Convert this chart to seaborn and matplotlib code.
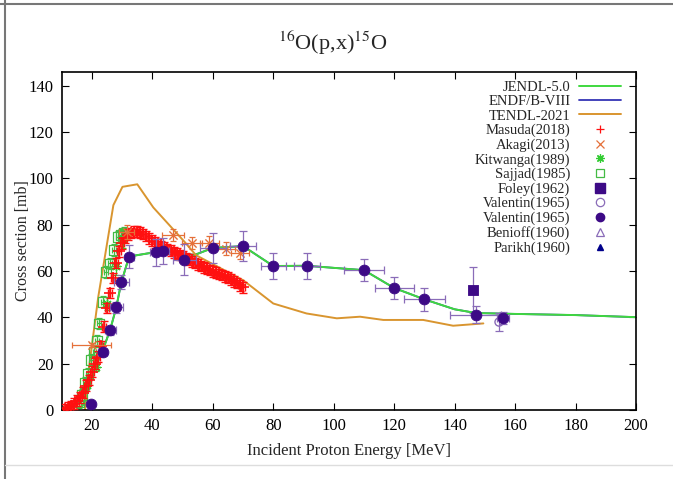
import numpy as np
import pandas as pd
import matplotlib
matplotlib.use("Agg")
import matplotlib.pyplot as plt
from matplotlib.lines import Line2D
import seaborn as sns

# ---------------- data ----------------
jendl_e = [15, 17, 19, 21, 23.5, 26, 28, 29.7, 32.3, 41, 44, 50, 54, 60, 70, 80, 91, 110, 120, 130, 140, 147, 160, 180, 200]
jendl_y = [0, 2, 9, 18, 25.5, 34.5, 44, 55, 66.3, 68.2, 68.6, 67.5, 67, 70, 70.8, 62.2, 62.3, 60.4, 52.7, 47.8, 43.5, 41.9, 41.5, 41, 40.1]

endf_e = jendl_e
endf_y = jendl_y

tendl_e = [17.7, 18.5, 22.1, 27.1, 30.1, 35.0, 40.3, 50.6, 54.4, 70.1, 80.0, 91.0, 101.0, 108.7, 116.4, 129.6, 139.5, 149.5]
tendl_y = [0.0, 13.0, 48.9, 88.5, 96.4, 97.5, 87.5, 72.7, 66.9, 56.0, 46.0, 41.7, 39.6, 40.3, 38.9, 38.9, 36.4, 37.4]

masuda_e = [11, 12, 13, 14, 15, 16, 17, 18, 19, 20, 21, 22, 23, 24, 25, 26, 27, 28, 29, 30,
            31, 32, 33, 34, 35, 36, 37, 38, 39, 40, 41, 42, 43, 44, 45, 46, 47, 48, 49, 50,
            51, 52, 53, 54, 55, 56, 57, 58, 59, 60, 61, 62, 63, 64, 65, 66, 67, 68, 69, 70]
masuda_y = [0.5, 1.0, 1.8, 2.8, 4.0, 5.5, 7.5, 10.5, 13.0, 16.5, 20.0, 23.0, 27.5, 36.0, 44.0, 50.5, 57.0, 63.5, 68.5, 72.0,
            74.5, 75.8, 76.5, 77.0, 77.0, 76.8, 76.0, 75.2, 74.2, 73.2, 72.4, 71.6, 70.9, 70.2, 69.5, 68.8, 68.1, 67.5, 66.9, 66.3,
            65.6, 64.9, 64.2, 63.5, 62.9, 62.2, 61.6, 61.0, 60.4, 59.8, 59.3, 58.8, 58.3, 57.7, 57.1, 56.4, 55.6, 54.8, 53.9, 53.0]
masuda_xerr = 0.6
masuda_yerr = 2.3

akagi_e = [19.9, 31.5, 46.8, 53.1, 58.8, 64.2, 69.1]
akagi_y = [28.1, 77.0, 75.5, 72.1, 72.3, 69.7, 67.9]
akagi_xerr = [6.5, 2.5, 3.5, 3.2, 3.2, 3.0, 3.0]
akagi_yerr = [1.0, 3.0, 2.5, 2.7, 2.8, 2.7, 2.7]

kitwanga_e = [18.3, 21.2, 25.0, 28.0, 30.3]
kitwanga_y = [10.8, 18.7, 46.0, 62.0, 74.0]
kitwanga_yerr = [1.5, 2.0, 3.0, 3.5, 4.0]

sajjad_e = [15.8, 16.8, 17.7, 18.7, 19.7, 20.8, 21.6, 22.4, 23.5, 24.6, 26.0, 27.4, 28.5, 29.6, 30.6]
sajjad_y = [3.5, 6.5, 11.8, 15.5, 21.6, 25.2, 30.0, 37.4, 46.8, 59.7, 63.3, 69.0, 74.8, 75.5, 76.5]
sajjad_xerr = 0.6
sajjad_yerr = 2.5

foley_e = [146.0]
foley_y = [51.8]
foley_yerr = [10.0]

valentin_open_e = [154.7]
valentin_open_y = [38.0]
valentin_open_yerr = [4.0]

valentin_e = [19.6, 23.6, 26.1, 28.1, 29.7, 32.3, 41.1, 43.6, 50.6, 60.0, 70.0, 80.0, 91.0, 110.0, 120.0, 130.0, 147.0, 155.9]
valentin_y = [2.6, 25.2, 34.5, 44.3, 55.1, 66.3, 68.2, 68.7, 65.0, 70.0, 70.9, 62.2, 62.3, 60.4, 52.7, 47.8, 41.2, 39.7]
valentin_xerr = [0.3, 1.5, 1.8, 2.2, 2.5, 1.5, 2.0, 2.0, 3.7, 4.4, 4.4, 4.2, 4.3, 6.5, 6.4, 6.8, 8.5, 2.0]
valentin_yerr = [0.3, 1.0, 2.0, 2.2, 3.0, 5.0, 5.8, 5.8, 6.5, 6.5, 6.5, 5.7, 5.7, 4.7, 4.9, 5.0, 3.6, 2.5]

benioff_e = []
benioff_y = []
parikh_e = []
parikh_y = []

x_ticks = [20, 40, 60, 80, 100, 120, 140, 160, 180, 200]
y_ticks = [0, 20, 40, 60, 80, 100, 120, 140]

# ---------------- style ----------------
sns.set_theme(style="ticks")
plt.rcParams['font.family'] = ['Liberation Serif', 'DejaVu Serif']
plt.rcParams['mathtext.fontset'] = 'stix'

C_JENDL = '#3fd83f'
C_ENDF = '#3535b5'
C_TENDL = '#d9952f'
C_MASUDA = '#ff1010'
C_AKAGI = '#e5703a'
C_KIT = '#33cc33'
C_SAJ = '#44bb44'
C_PURPLE = '#3d0a86'
C_PURPLE_ERR = '#8a6cb8'
C_PARIKH = '#00008b'

fig = plt.figure(figsize=(6.73, 4.79), dpi=100)
ax = fig.add_axes([61.7 / 673, 1 - 410 / 479, (636 - 61.7) / 673, (410 - 72) / 479])

# model lines
sns.lineplot(x=endf_e, y=endf_y, ax=ax, color=C_ENDF, lw=1.3, sort=False, estimator=None, zorder=1)
sns.lineplot(x=jendl_e, y=jendl_y, ax=ax, color=C_JENDL, lw=1.4, sort=False, estimator=None, zorder=2)
sns.lineplot(x=tendl_e, y=tendl_y, ax=ax, color=C_TENDL, lw=1.4, sort=False, estimator=None, zorder=2)

# experimental data with error bars
ax.errorbar(sajjad_e, sajjad_y, xerr=sajjad_xerr, yerr=sajjad_yerr, fmt='none',
            ecolor=C_SAJ, elinewidth=0.9, capsize=2.5, capthick=0.9, zorder=3)
sns.scatterplot(x=sajjad_e, y=sajjad_y, ax=ax, marker='s', s=50, facecolor='none',
                edgecolor=C_SAJ, linewidth=0.9, zorder=4)

ax.errorbar(kitwanga_e, kitwanga_y, yerr=kitwanga_yerr, fmt='none',
            ecolor=C_KIT, elinewidth=0.9, capsize=2.5, capthick=0.9, zorder=3)
sns.scatterplot(x=kitwanga_e, y=kitwanga_y, ax=ax, marker=(8, 2, 0), s=40,
                color=C_KIT, edgecolor=C_KIT, linewidth=1.0, zorder=4)

ax.errorbar(masuda_e, masuda_y, xerr=masuda_xerr, yerr=masuda_yerr, fmt='none',
            ecolor=C_MASUDA, elinewidth=1.0, capsize=3, capthick=1.0, zorder=5)
sns.scatterplot(x=masuda_e, y=masuda_y, ax=ax, marker='+', s=70,
                color=C_MASUDA, linewidth=1.2, zorder=5)

ax.errorbar(akagi_e, akagi_y, xerr=akagi_xerr, yerr=akagi_yerr, fmt='none',
            ecolor=C_AKAGI, elinewidth=0.9, capsize=2.5, capthick=0.9, zorder=6)
sns.scatterplot(x=akagi_e, y=akagi_y, ax=ax, marker='x', s=35,
                color=C_AKAGI, linewidth=1.0, zorder=6)

ax.errorbar(foley_e, foley_y, yerr=foley_yerr, fmt='none',
            ecolor=C_PURPLE_ERR, elinewidth=0.9, capsize=3, capthick=0.9, zorder=6)
sns.scatterplot(x=foley_e, y=foley_y, ax=ax, marker='s', s=60,
                color=C_PURPLE, edgecolor=C_PURPLE, zorder=7)

ax.errorbar(valentin_open_e, valentin_open_y, yerr=valentin_open_yerr, fmt='none',
            ecolor=C_PURPLE_ERR, elinewidth=0.9, capsize=3, capthick=0.9, zorder=6)
sns.scatterplot(x=valentin_open_e, y=valentin_open_y, ax=ax, marker='o', s=35,
                facecolor='none', edgecolor=C_PURPLE_ERR, linewidth=1.0, zorder=7)

ax.errorbar(valentin_e, valentin_y, xerr=valentin_xerr, yerr=valentin_yerr, fmt='none',
            ecolor=C_PURPLE_ERR, elinewidth=0.9, capsize=3, capthick=0.9, zorder=7)
sns.scatterplot(x=valentin_e, y=valentin_y, ax=ax, marker='o', s=60,
                color=C_PURPLE, edgecolor=C_PURPLE, zorder=8)

if len(benioff_e):
    sns.scatterplot(x=benioff_e, y=benioff_y, ax=ax, marker='^', s=35,
                    facecolor='none', edgecolor=C_PURPLE_ERR, zorder=8)
if len(parikh_e):
    sns.scatterplot(x=parikh_e, y=parikh_y, ax=ax, marker='^', s=35,
                    color=C_PARIKH, zorder=8)

# axes
ax.set_xlim(10, 200)
ax.set_ylim(0, 146)
ax.set_xticks(x_ticks)
ax.set_yticks(y_ticks)
ax.tick_params(direction='in', length=5, width=0.8, top=True, right=True,
               labelsize=12, pad=6, colors='black')
for sp in ax.spines.values():
    sp.set_linewidth(1.2)
    sp.set_color('black')
ax.set_xlabel('Incident Proton Energy [MeV]', fontsize=12, labelpad=6)
ax.set_ylabel('Cross section [mb]', fontsize=11.5, labelpad=-2)

# legend
handles = [
    Line2D([], [], color=C_JENDL, lw=1.4),
    Line2D([], [], color=C_ENDF, lw=1.3),
    Line2D([], [], color=C_TENDL, lw=1.4),
    Line2D([], [], color=C_MASUDA, marker='+', ls='none', ms=6, mew=0.9),
    Line2D([], [], color=C_AKAGI, marker='x', ls='none', ms=5.5, mew=0.9),
    Line2D([], [], color=C_KIT, marker=(8, 2, 0), ls='none', ms=6, mew=0.9),
    Line2D([], [], color=C_SAJ, marker='s', mfc='none', ls='none', ms=6, mew=0.9),
    Line2D([], [], color=C_PURPLE, marker='s', ls='none', ms=6.5),
    Line2D([], [], color=C_PURPLE_ERR, marker='o', mfc='none', ls='none', ms=6, mew=0.9),
    Line2D([], [], color=C_PURPLE, marker='o', ls='none', ms=6),
    Line2D([], [], color=C_PURPLE_ERR, marker='^', mfc='none', ls='none', ms=6, mew=0.9),
    Line2D([], [], color=C_PARIKH, marker='^', ls='none', ms=5),
]
labels = ['JENDL-5.0', 'ENDF/B-VIII', 'TENDL-2021', 'Masuda(2018)', 'Akagi(2013)',
          'Kitwanga(1989)', 'Sajjad(1985)', 'Foley(1962)', 'Valentin(1965)',
          'Valentin(1965)', 'Benioff(1960)', 'Parikh(1960)']
ax.legend(handles, labels, loc='upper right', bbox_to_anchor=(1.0 - 1.5 / 574, 1.0 + 4.5 / 338),
          frameon=False, markerfirst=False,
          fontsize=10.5, handlelength=2.9, handletextpad=0.6, labelspacing=0.08,
          borderaxespad=0.7, borderpad=0.2)

# title
fig.text(0.495, 1 - 43 / 479, r'$^{16}$O(p,x)$^{15}$O', ha='center', va='center', fontsize=16)

# screenshot frame lines
fig.add_artist(Line2D([4.5 / 673, 4.5 / 673], [0, 1], transform=fig.transFigure, color='#777777', lw=1.5))
fig.add_artist(Line2D([0, 1], [1 - 3.5 / 479, 1 - 3.5 / 479], transform=fig.transFigure, color='#777777', lw=1.5))
fig.add_artist(Line2D([4.5 / 673, 1], [1 - 465 / 479, 1 - 465 / 479], transform=fig.transFigure, color='#dddddd', lw=1.0))

fig.savefig('out.png', dpi=100)
